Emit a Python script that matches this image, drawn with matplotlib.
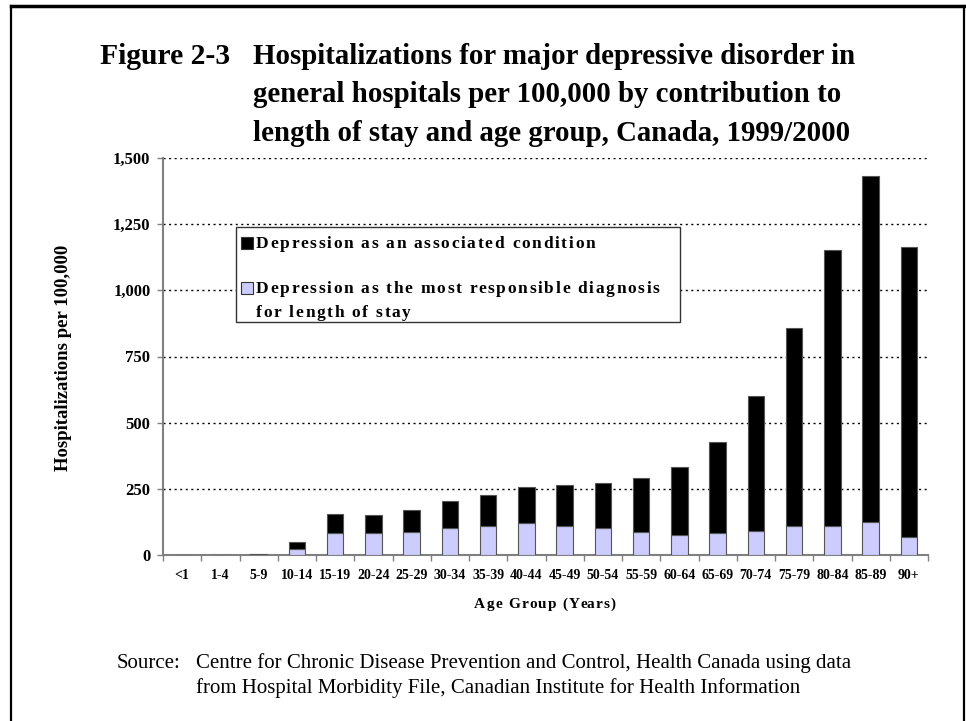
import matplotlib
matplotlib.use("Agg")
import matplotlib.pyplot as plt
from matplotlib.patches import Rectangle
from matplotlib.lines import Line2D
from matplotlib.font_manager import FontProperties

# ---------------- data ----------------
age_groups = ["<1", "1-4", "5-9", "10-14", "15-19", "20-24", "25-29", "30-34", "35-39",
              "40-44", "45-49", "50-54", "55-59", "60-64", "65-69", "70-74", "75-79",
              "80-84", "85-89", "90+"]
most_responsible = [0, 0, 1, 22, 84, 84, 87, 103, 111, 121, 111, 103, 87, 76, 83, 91,
                    111, 111, 126, 69]
associated = [0, 0, 4, 26, 72, 67, 84, 100, 115, 136, 154, 170, 205, 255, 344, 511,
              747, 1042, 1307, 1093]
y_ticks = [0, 250, 500, 750, 1000, 1250, 1500]
y_tick_labels = ["0", "250", "500", "750", "1,000", "1,250", "1,500"]
legend_labels = ["Depression as an associated condition",
                 "Depression as the most responsible diagnosis",
                 "for length of stay"]
title_lines = ["Hospitalizations for major depressive disorder in",
               "general hospitals per 100,000 by contribution to",
               "length of stay and age group, Canada, 1999/2000"]
source_lines = ["Centre for Chronic Disease Prevention and Control, Health Canada using data",
                "from Hospital Morbidity File, Canadian Institute for Health Information"]

W, H = 966, 721
DPI = 100
SERIF = "Liberation Serif"
PURPLE = "#CCCCFF"
EDGE = "#555555"
AXGRAY = "#808080"

fig = plt.figure(figsize=(W / DPI, H / DPI), dpi=DPI)
fig.patch.set_facecolor("white")


def fx(px):
    return px / W


def fy(py):
    return 1 - py / H


# ---------------- axes ----------------
ax_l, ax_r, ax_t, ax_b = 163, 928, 158, 555
ax = fig.add_axes([fx(ax_l), fy(ax_b), (ax_r - ax_l) / W, (ax_b - ax_t) / H])

x = list(range(len(age_groups)))
bw = 0.43
ax.bar(x, most_responsible, width=bw, color=PURPLE, edgecolor=EDGE, linewidth=0.8, zorder=3)
ax.bar(x, associated, width=bw, bottom=most_responsible, color="black",
       edgecolor=EDGE, linewidth=0.8, zorder=3)

ax.set_xlim(-0.5, len(age_groups) - 0.5)
ax.set_ylim(0, 1500)

for s in ["top", "right"]:
    ax.spines[s].set_visible(False)
for s in ["left", "bottom"]:
    ax.spines[s].set_color(AXGRAY)
    ax.spines[s].set_linewidth(1.5)

ax.set_yticks(y_ticks)
ax.set_yticklabels(y_tick_labels, fontfamily=SERIF, fontweight="bold", fontsize=12)
ax.tick_params(axis="y", direction="out", length=4, color=AXGRAY, width=1, pad=5)

ax.set_xticks([i - 0.5 for i in range(len(age_groups) + 1)])
ax.set_xticklabels([])
ax.set_xticks(x, minor=True)
ax.set_xticklabels(age_groups, minor=True, fontfamily=SERIF, fontweight="bold", fontsize=10)
ax.tick_params(axis="x", which="major", direction="out", length=4, color=AXGRAY, width=1)
ax.tick_params(axis="x", which="minor", length=0, pad=10)

for yv in y_ticks[1:]:
    ax.axhline(yv, color="black", linewidth=1.0, linestyle=(0, (1.5, 2.5)), zorder=1)

ax.set_facecolor("white")

renderer = fig.canvas.get_renderer()


def spaced_text(x_px, y_px, s, spacing, size, weight="bold", ha="left", va="baseline"):
    fp = FontProperties(family=SERIF, weight=weight, size=size)
    bar_w = renderer.get_text_width_height_descent("|", fp, ismath=False)[0]
    widths = []
    for i in range(len(s) + 1):
        w = renderer.get_text_width_height_descent(s[:i] + "|", fp, ismath=False)[0] - bar_w
        widths.append(w)
    total = widths[-1] + spacing * (len(s) - 1)
    x0 = x_px - total / 2 if ha == "center" else x_px
    for i, ch in enumerate(s):
        if ch == " ":
            continue
        fig.text(fx(x0 + widths[i] + spacing * i), fy(y_px), ch, fontproperties=fp,
                 ha="left", va=va, zorder=8)


# ---------------- legend (drawn manually) ----------------
lg_l, lg_r, lg_t, lg_b = 236, 680, 227, 322
fig.patches.append(Rectangle((fx(lg_l), fy(lg_b)), (lg_r - lg_l) / W, (lg_b - lg_t) / H,
                             transform=fig.transFigure, facecolor="white",
                             edgecolor="#333333", linewidth=1.0, zorder=5))
sq = 12
for (cy, col) in [(243, "black"), (288, PURPLE)]:
    fig.patches.append(Rectangle((fx(241), fy(cy + sq / 2)), sq / W, sq / H,
                                 transform=fig.transFigure, facecolor=col,
                                 edgecolor="#333333", linewidth=0.8, zorder=6))
spaced_text(256, 248, legend_labels[0], 1.7, 12.5)
spaced_text(256, 293, legend_labels[1], 1.7, 12.5)
spaced_text(256, 317, legend_labels[2], 1.7, 12.5)

# ---------------- axis labels ----------------
spaced_text(545, 608, "Age Group (Years)", 1.2, 11, va="baseline", ha="center")
fig.text(fx(64), fy(358), "Hospitalizations per 100,000", rotation=90, ha="center",
         va="center", fontfamily=SERIF, fontweight="bold", fontsize=13.5)

# ---------------- title ----------------
title_base = [64, 102, 141]
fig.text(fx(100), fy(title_base[0]), "Figure 2-3", fontfamily=SERIF, fontweight="bold",
         fontsize=21.3, ha="left", va="baseline")
for line, b in zip(title_lines, title_base):
    fig.text(fx(253), fy(b), line, fontfamily=SERIF, fontweight="bold", fontsize=20.8,
             ha="left", va="baseline")

# ---------------- source ----------------
fig.text(fx(117), fy(668), "Source:", fontfamily=SERIF, fontsize=15, ha="left",
         va="baseline")
fig.text(fx(196), fy(668), source_lines[0], fontfamily=SERIF, fontsize=15, ha="left",
         va="baseline")
fig.text(fx(196), fy(693), source_lines[1], fontfamily=SERIF, fontsize=15, ha="left",
         va="baseline")

# ---------------- frame ----------------
fig.lines.append(Line2D([fx(11), fx(11)], [fy(6), 0], transform=fig.transFigure,
                        color="black", linewidth=1.6))
fig.lines.append(Line2D([fx(964), fx(964)], [fy(6), 0], transform=fig.transFigure,
                        color="black", linewidth=1.6))
fig.lines.append(Line2D([fx(11), fx(964)], [fy(6), fy(6)], transform=fig.transFigure,
                        color="black", linewidth=2.5))

fig.savefig("out.png", dpi=DPI)
